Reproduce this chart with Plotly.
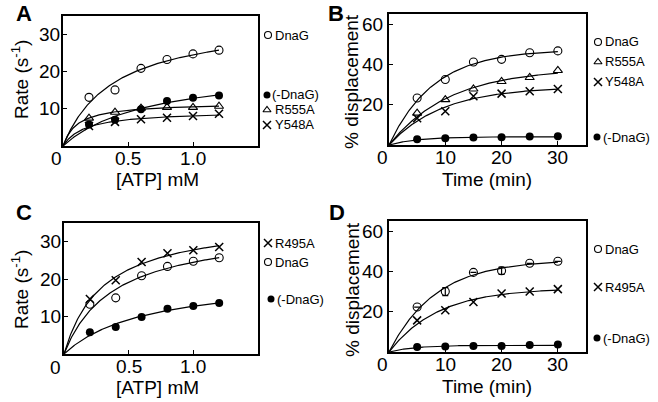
import numpy as np
import plotly.graph_objects as go

W, H = 658, 402

# ---------------- data ----------------
atp = [0.2, 0.4, 0.6, 0.8, 1.0, 1.2]
time_min = [5, 10, 15, 20, 25, 30]

a_dnag = [13.1, 15.1, 20.9, 23.3, 24.8, 25.8]
a_minus = [5.8, 7.1, 9.9, 12.1, 13.0, 13.6]
a_r555a = [7.5, 9.1, 10.2, 10.4, 10.4, 10.7]
a_y548a = [5.4, 6.5, 7.2, 7.6, 8.1, 8.7]

b_dnag = [23.3, 32.5, 41.2, 42.5, 45.8, 46.7]
b_r555a = [15.8, 22.5, 27.8, 31.5, 33.5, 37.0]
b_y548a = [13.3, 16.7, 24.2, 25.5, 26.7, 27.8]
b_minus = [2.8, 3.3, 3.7, 3.8, 4.2, 4.3]

c_r495a = [14.7, 19.7, 24.6, 26.9, 27.7, 28.6]
c_dnag = [13.3, 15.0, 20.9, 23.4, 24.8, 25.7]
c_minus = [5.8, 7.2, 9.9, 12.1, 12.8, 13.6]

d_dnag = [22.3, 30.0, 39.5, 40.3, 44.0, 45.0]
d_dnag_err = [0.0, 2.0, 0.0, 1.8, 0.0, 0.0]
d_r495a = [15.7, 20.7, 24.8, 29.0, 30.0, 31.2]
d_minus = [2.5, 2.7, 3.0, 3.0, 3.5, 3.7]

x_ticks_atp = [0.5, 1.0]
x_ticklabels_atp = ["0.5", "1.0"]
x_ticks_time = [10, 20, 30]
x_ticklabels_time = ["10", "20", "30"]
y_ticks_rate = [10, 20, 30]
y_ticklabels_rate = ["10", "20", "30"]
y_ticks_disp = [20, 40, 60]
y_ticklabels_disp = ["20", "40", "60"]


# ---------------- fitting helpers (derived from data) ----------------
def fit_mm(x, y):
    x = np.asarray(x, float); y = np.asarray(y, float)
    best = None
    for km in np.linspace(0.01, 3.0, 3000):
        f = x / (km + x)
        vmax = (f @ y) / (f @ f)
        err = np.sum((vmax * f - y) ** 2)
        if best is None or err < best[0]:
            best = (err, vmax, km)
    xs = np.linspace(0, max(x), 200)
    return xs, best[1] * xs / (best[2] + xs)


def fit_exp(x, y):
    x = np.asarray(x, float); y = np.asarray(y, float)
    best = None
    for k in np.linspace(0.005, 1.5, 3000):
        f = 1 - np.exp(-k * x)
        a = (f @ y) / (f @ f)
        err = np.sum((a * f - y) ** 2)
        if best is None or err < best[0]:
            best = (err, a, k)
    xs = np.linspace(0, max(x), 200)
    return xs, best[1] * (1 - np.exp(-best[2] * xs))


# ---------------- layout geometry (pixels) ----------------
boxes = {
    1: (63, 258, 16, 146),
    2: (389, 586, 14, 145),
    3: (64, 258, 223, 354),
    4: (389, 586, 221, 352),
}

fig = go.Figure()

SYM = {
    "open": dict(symbol="circle-open", size=8, color="black", line=dict(width=1.1, color="black")),
    "filled": dict(symbol="circle", size=8, color="black"),
    "tri": dict(symbol="triangle-up-open", size=8, color="black", line=dict(width=1.1, color="black")),
    "x": dict(symbol="x-thin-open", size=8, color="black", line=dict(width=1.5, color="black")),
}


def add_series(idx, xdata, ydata, kind, fit, err=None):
    xa = "x" if idx == 1 else f"x{idx}"
    ya = "y" if idx == 1 else f"y{idx}"
    xs, ys = fit(xdata, ydata)
    fig.add_trace(go.Scatter(x=xs, y=ys, mode="lines", xaxis=xa, yaxis=ya,
                             line=dict(color="black", width=1.2),
                             showlegend=False, hoverinfo="skip"))
    tr = dict(x=xdata, y=ydata, mode="markers", xaxis=xa, yaxis=ya,
              marker=SYM[kind], showlegend=False, cliponaxis=False)
    if err is not None:
        tr["error_y"] = dict(type="data", array=err, visible=True,
                             color="black", thickness=1.2, width=3)
    fig.add_trace(go.Scatter(**tr))


add_series(1, atp, a_dnag, "open", fit_mm)
add_series(1, atp, a_r555a, "tri", fit_mm)
add_series(1, atp, a_y548a, "x", fit_mm)
add_series(1, atp, a_minus, "filled", fit_mm)

add_series(2, time_min, b_dnag, "open", fit_exp)
add_series(2, time_min, b_r555a, "tri", fit_exp)
add_series(2, time_min, b_y548a, "x", fit_exp)
add_series(2, time_min, b_minus, "filled", fit_exp)

add_series(3, atp, c_r495a, "x", fit_mm)
add_series(3, atp, c_dnag, "open", fit_mm)
add_series(3, atp, c_minus, "filled", fit_mm)

add_series(4, time_min, d_dnag, "open", fit_exp, err=d_dnag_err)
add_series(4, time_min, d_r495a, "x", fit_exp)
add_series(4, time_min, d_minus, "filled", fit_exp)

FONT = "Liberation Sans, Arial, sans-serif"

axis_common = dict(showgrid=False, zeroline=False, showline=True, mirror=True,
                   linecolor="black", linewidth=2, ticks="inside", ticklen=4,
                   tickwidth=1.2, tickcolor="black", showticklabels=False)

layout = {}
ann = []
for idx, (x0, x1, y0, y1) in boxes.items():
    sx = "" if idx == 1 else str(idx)
    xdom = [x0 / W, x1 / W]
    ydom = [1 - y1 / H, 1 - y0 / H]
    is_time = idx in (2, 4)
    xt = x_ticks_time if is_time else x_ticks_atp
    xl = x_ticklabels_time if is_time else x_ticklabels_atp
    yt = y_ticks_disp if is_time else y_ticks_rate
    yl = y_ticklabels_disp if is_time else y_ticklabels_rate
    layout[f"xaxis{sx}"] = dict(axis_common, domain=xdom, anchor=f"y{sx}",
                                range=[0, 35] if is_time else [0, 1.5], tickvals=xt)
    layout[f"yaxis{sx}"] = dict(axis_common, domain=ydom, anchor=f"x{sx}",
                                range=[0, 65] if is_time else [0, 35], tickvals=yt)
    xr = "x" if idx == 1 else f"x{idx}"
    yr = "y" if idx == 1 else f"y{idx}"
    for v, lab in zip(xt, xl):
        ann.append(dict(x=v, y=0, xref=xr, yref=f"{yr} domain", text=lab, showarrow=False,
                        xanchor="center", yanchor="top", yshift=0,
                        font=dict(family=FONT, size=19, color="black")))
    for v, lab in zip(yt, yl):
        ann.append(dict(x=0, y=v, xref=f"{xr} domain", yref=yr, text=lab, showarrow=False,
                        xanchor="right", yanchor="middle", xshift=-4 if is_time else -1,
                        font=dict(family=FONT, size=19, color="black")))

# overlay axis in figure pixels for legend keys
layout["xaxis5"] = dict(domain=[0, 1], range=[0, W], visible=False, anchor="y5", fixedrange=True)
layout["yaxis5"] = dict(domain=[0, 1], range=[H, 0], visible=False, anchor="x5", fixedrange=True)

fig.update_layout(**layout)
fig.update_layout(width=W, height=H, margin=dict(l=0, r=0, t=0, b=0),
                  paper_bgcolor="white", plot_bgcolor="rgba(0,0,0,0)",
                  font=dict(family=FONT, color="black"), showlegend=False)

# legend keys: (label, kind, marker x, y, text x)
legend_items = [
    ("DnaG", "open", 268, 35, 274),
    ("(-DnaG)", "filled", 267, 95, 271),
    ("R555A", "tri", 267, 110, 274),
    ("Y548A", "x", 267, 125, 274),
    ("DnaG", "open", 598, 42, 604),
    ("R555A", "tri", 598, 62, 604),
    ("Y548A", "x", 598, 82, 604),
    ("(-DnaG)", "filled", 597, 137, 602),
    ("R495A", "x", 268, 243, 274),
    ("DnaG", "open", 268, 262, 274),
    ("(-DnaG)", "filled", 271, 299, 276),
    ("DnaG", "open", 598, 249, 604),
    ("R495A", "x", 598, 287, 604),
    ("(-DnaG)", "filled", 597, 338, 602),
]
for label, kind, mx, my, tx in legend_items:
    m = dict(SYM[kind])
    m["size"] = 7 if kind != "x" else 8
    fig.add_trace(go.Scatter(x=[mx], y=[my], xaxis="x5", yaxis="y5", mode="markers",
                             marker=m, showlegend=False, hoverinfo="skip"))
    ann.append(dict(x=tx / W, y=1 - my / H, xref="paper", yref="paper", text=label,
                    showarrow=False, xanchor="left", yanchor="middle", borderpad=0,
                    font=dict(family=FONT, size=13, color="black")))


def txt(text, px, py, size=19, angle=0, bold=False, xanchor="center"):
    t = f"<b>{text}</b>" if bold else text
    ann.append(dict(x=px / W, y=1 - py / H, xref="paper", yref="paper", text=t,
                    showarrow=False, xanchor=xanchor, yanchor="middle", textangle=angle,
                    font=dict(family=FONT, size=size, color="black")))


# panel letters
txt("A", 24, 14, size=22, bold=True)
txt("B", 336, 14, size=22, bold=True)
txt("C", 24, 212, size=22, bold=True)
txt("D", 337, 212, size=22, bold=True)

# origin zeros
txt("0", 56, 158)
txt("0", 382, 157)
txt("0", 55, 367)
txt("0", 382, 364)

# axis titles
txt("[ATP] mM", 157, 180)
txt("[ATP] mM", 157, 387)
txt("Time (min)", 487, 179)
txt("Time (min)", 487, 386)
txt("Rate (s<sup>-1</sup>)", 20, 80, angle=-90)
txt("Rate (s<sup>-1</sup>)", 20, 290, angle=-90)
txt("% displacement", 352, 82, angle=-90)
txt("% displacement", 352, 290, angle=-90)

fig.update_layout(annotations=ann)
fig.write_html("out.html", post_script="document.body.style.margin='0';",
               config={"displayModeBar": False})
